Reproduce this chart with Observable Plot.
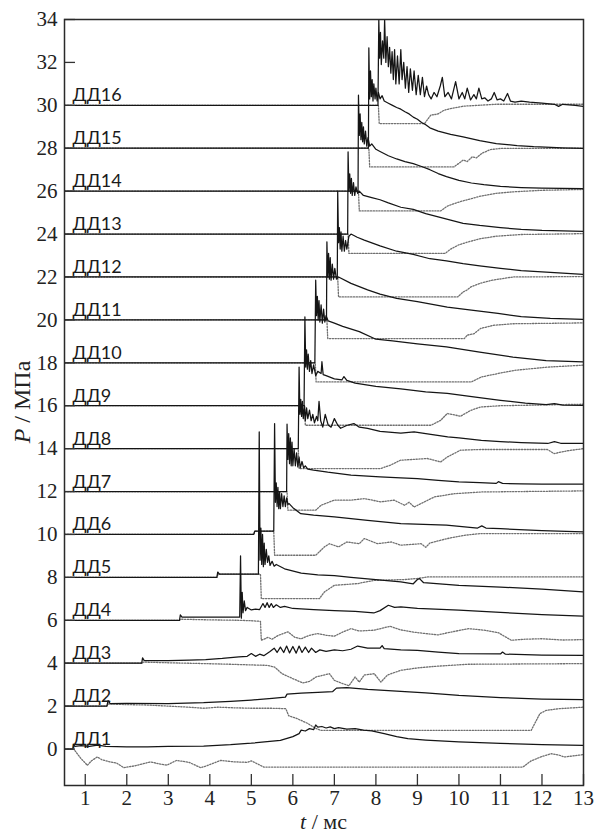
<!DOCTYPE html>
<html><head><meta charset="utf-8">
<script src="https://cdn.jsdelivr.net/npm/d3@7"></script>
<script src="https://cdn.jsdelivr.net/npm/@observablehq/plot@0.6"></script>
<style>body{margin:0;background:#fff}</style>
</head><body><div id="chart"></div>
<script>
const sensorNames = ["ДД1","ДД2","ДД3","ДД4","ДД5","ДД6","ДД7","ДД8","ДД9","ДД10","ДД11","ДД12","ДД13","ДД14","ДД15","ДД16"];
const sensorBaselines = [0,2,4,6,8,10,12,14,16,18,20,22,24,26,28,30];
const xTicks = [1,2,3,4,5,6,7,8,9,10,11,12,13];
const yTicks = [0,2,4,6,8,10,12,14,16,18,20,22,24,26,28,30,32,34];

const dd1Solid = [[0.5,0],[0.7,0],[0.72,0.22],[0.75,0.12],[0.9,0.16],[1.1,0.12],[1.3,0.18],[1.5,0.12],[2.0,0.1],[2.5,0.1],[3.0,0.12],[3.85,0.14],[4.5,0.2],[5.0,0.27],[5.7,0.4],[6.0,0.58],[6.15,0.72],[6.2,0.88],[6.3,0.84],[6.4,0.95],[6.5,0.9],[6.55,1.12],[6.6,1.02],[6.7,1.05],[6.8,0.98],[6.9,1.03],[7.0,0.95],[7.1,1.0],[7.3,0.93],[7.5,0.95],[7.7,0.88],[7.9,0.85],[8.2,0.72],[8.5,0.58],[8.77,0.48],[9.2,0.42],[10.0,0.33],[11.0,0.26],[12.0,0.2],[13,0.17]];
const dd1Dotted = [[0.5,0],[0.72,0],[0.8,-0.2],[0.9,-0.45],[1.0,-0.65],[1.05,-0.76],[1.15,-0.55],[1.29,-0.37],[1.4,-0.5],[1.6,-0.6],[1.75,-0.65],[1.93,-0.87],[2.2,-0.78],[2.57,-0.6],[2.8,-0.7],[2.97,-0.75],[3.2,-0.53],[3.5,-0.62],[3.78,-0.87],[3.9,-0.8],[4.26,-0.53],[4.6,-0.6],[4.9,-0.62],[5.0,-0.55],[5.3,-0.84],[11.54,-0.84],[11.74,-0.55],[12.0,-0.35],[12.22,-0.22],[12.4,-0.28],[12.54,-0.37],[13,-0.26]];
const dd2Solid = [[0.5,2],[1.52,2],[1.55,2.25],[1.6,2.12],[2.0,2.13],[3.0,2.12],[3.85,2.16],[4.5,2.22],[5.0,2.28],[5.5,2.36],[5.82,2.42],[5.86,2.56],[6.2,2.6],[6.6,2.64],[6.96,2.68],[7.05,2.84],[7.3,2.86],[7.8,2.78],[8.5,2.7],[9.2,2.62],[10.0,2.5],[11.0,2.4],[12.0,2.33],[13,2.3]];
const dd2Dotted = [[0.5,2],[1.52,2],[1.55,2.1],[2.0,2.07],[2.5,2.05],[3.0,2.0],[3.5,1.95],[3.85,1.9],[4.2,1.95],[4.6,1.92],[5.0,1.9],[5.5,1.9],[5.83,1.88],[5.9,1.55],[6.1,1.42],[6.35,1.2],[6.55,0.96],[6.67,0.87],[11.74,0.87],[11.95,1.65],[12.1,1.8],[12.4,1.88],[13,1.95]];
const dd3Solid = [[0.5,4],[2.36,4],[2.38,4.25],[2.42,4.12],[3.0,4.12],[3.5,4.14],[3.9,4.17],[4.3,4.22],[4.7,4.3],[4.9,4.32],[5.0,4.45],[5.1,4.32],[5.2,4.42],[5.3,4.35],[5.45,4.55],[5.55,4.7],[5.62,4.5],[5.7,4.75],[5.78,4.5],[5.85,4.8],[5.92,4.48],[6.0,4.78],[6.08,4.47],[6.15,4.8],[6.22,4.5],[6.3,4.75],[6.38,4.5],[6.45,4.7],[6.55,4.5],[6.65,4.62],[6.8,4.55],[7.0,4.62],[7.2,4.58],[7.4,4.65],[7.56,4.8],[7.8,4.7],[8.1,4.7],[8.15,4.82],[8.2,4.68],[8.6,4.62],[9.0,4.6],[9.5,4.52],[10.0,4.45],[11.0,4.43],[11.05,4.52],[11.12,4.42],[12.0,4.38],[13,4.37]];
const dd3Dotted = [[0.5,4],[2.37,4],[2.4,4.05],[3.0,4.02],[3.9,3.98],[4.5,3.95],[5.0,3.92],[5.38,3.9],[5.56,3.82],[5.74,3.51],[6.0,3.28],[6.24,3.08],[6.4,3.15],[6.56,3.36],[6.88,3.51],[7.0,3.2],[7.2,3.05],[7.35,2.95],[7.5,3.36],[7.6,3.12],[7.72,3.45],[7.96,3.51],[8.12,3.12],[8.28,3.45],[8.6,3.67],[9.0,3.78],[9.4,3.85],[10.2,3.95],[13,3.98]];
const dd4Solid = [[0.5,6],[3.27,6],[3.29,6.25],[3.33,6.15],[4.0,6.15],[4.72,6.15],[4.74,9.0],[4.76,6.1],[4.78,7.3],[4.8,6.35],[4.83,6.9],[4.86,6.45],[4.9,6.6],[5.0,6.48],[5.1,6.52],[5.2,6.5],[5.28,6.78],[5.33,6.6],[5.38,6.82],[5.43,6.6],[5.48,6.78],[5.53,6.6],[5.6,6.72],[5.7,6.6],[5.8,6.65],[6.0,6.55],[6.5,6.5],[7.0,6.45],[7.5,6.42],[7.95,6.34],[8.1,6.45],[8.3,6.7],[8.45,6.6],[8.6,6.62],[9.0,6.56],[10.0,6.47],[11.0,6.37],[12.0,6.26],[13,6.19]];
const dd4Dotted = [[0.5,6],[3.27,6],[3.3,6.05],[4.0,6.02],[4.7,6.0],[5.0,5.98],[5.22,5.95],[5.24,5.07],[5.4,5.2],[5.5,5.12],[5.65,5.3],[5.88,5.46],[6.05,5.2],[6.2,5.14],[6.4,5.3],[6.6,5.38],[6.8,5.3],[7.0,5.26],[7.2,5.45],[7.4,5.61],[7.6,5.5],[7.96,5.54],[8.34,5.72],[8.6,5.55],[8.9,5.45],[9.2,5.38],[9.5,5.32],[9.8,5.45],[10.24,5.61],[10.6,5.54],[10.95,5.42],[11.26,5.07],[11.6,5.12],[12.0,5.14],[12.5,5.08],[13,5.1]];
const dd5Solid = [[0.5,8],[4.17,8],[4.19,8.25],[4.23,8.15],[5.17,8.15],[5.19,14.78],[5.21,8.8],[5.23,10.3],[5.25,8.6],[5.27,10.0],[5.29,8.5],[5.31,9.6],[5.33,8.6],[5.36,9.3],[5.39,8.7],[5.42,9.0],[5.45,8.56],[5.5,8.75],[5.55,8.52],[5.6,8.6],[5.8,8.4],[6.2,8.2],[6.6,8.12],[7.0,8.08],[7.4,8.0],[8.0,7.9],[8.6,7.79],[8.9,7.7],[9.0,7.9],[9.05,7.94],[9.15,7.75],[10.0,7.63],[11.0,7.55],[12.0,7.45],[13,7.32]];
const dd5Dotted = [[0.5,8],[4.17,8],[4.2,8.15],[5.22,8.15],[5.24,7.01],[6.64,7.01],[6.76,7.32],[7.0,7.63],[7.56,7.71],[7.96,7.86],[8.7,7.9],[9.0,7.95],[9.25,8.02],[13,8.02]];
const dd6Solid = [[0.5,10],[5.06,10],[5.08,10.15],[5.54,10.15],[5.56,15.17],[5.58,11.5],[5.6,12.4],[5.62,11.3],[5.64,12.2],[5.66,11.2],[5.68,12.0],[5.7,11.2],[5.73,11.9],[5.76,11.3],[5.79,11.8],[5.82,11.3],[5.85,11.7],[5.88,11.4],[5.91,11.44],[6.0,11.25],[6.19,10.97],[6.5,10.9],[7.0,10.82],[7.8,10.66],[8.6,10.51],[9.7,10.43],[10.45,10.3],[10.55,10.4],[10.65,10.3],[11.0,10.27],[12.0,10.18],[13,10.12]];
const dd6Dotted = [[0.5,10],[5.06,10],[5.08,10.15],[5.54,10.15],[5.56,9.03],[6.55,9.03],[6.76,9.42],[6.88,9.57],[7.1,9.42],[7.3,9.65],[7.6,9.57],[7.72,9.81],[8.04,9.57],[8.37,9.65],[8.6,9.5],[9.09,9.57],[9.2,9.4],[9.3,9.6],[9.7,9.8],[10.13,9.96],[10.5,10.04],[13,10.04]];
const dd7Solid = [[0.5,12],[5.85,12],[5.86,15.14],[5.88,13.5],[5.9,14.7],[5.92,13.3],[5.94,14.5],[5.96,13.2],[5.98,14.3],[6.0,13.2],[6.03,14.0],[6.06,13.2],[6.09,13.8],[6.12,13.15],[6.15,13.6],[6.18,13.1],[6.22,13.4],[6.26,13.1],[6.3,13.2],[6.36,13.05],[6.5,13.0],[6.84,12.9],[7.4,12.76],[8.1,12.68],[8.6,12.64],[9.0,12.6],[9.5,12.52],[10.0,12.45],[10.5,12.42],[10.9,12.38],[10.95,12.46],[11.05,12.38],[11.5,12.36],[12.0,12.35],[13,12.34]];
const dd7Dotted = [[0.5,12],[5.86,12],[5.88,11.13],[6.55,11.13],[6.68,11.36],[7.0,11.6],[7.4,11.6],[7.72,11.67],[8.12,11.52],[8.44,11.6],[8.69,11.36],[8.8,11.5],[8.92,11.28],[9.41,11.75],[9.89,11.9],[10.54,11.98],[13,12.03]];
const dd8Solid = [[0.5,14],[6.13,14],[6.15,17.8],[6.17,15.6],[6.19,16.3],[6.21,15.5],[6.23,16.2],[6.25,15.4],[6.28,16.0],[6.3,15.3],[6.33,15.9],[6.36,15.4],[6.4,15.8],[6.44,15.3],[6.48,15.6],[6.52,15.2],[6.57,15.5],[6.6,15.3],[6.63,16.2],[6.67,15.3],[6.72,15.0],[6.78,15.6],[6.85,15.1],[6.92,15.0],[7.0,15.4],[7.08,15.1],[7.15,14.95],[7.31,15.09],[7.47,15.17],[7.6,15.0],[7.8,14.94],[8.1,14.8],[8.6,14.72],[8.92,14.78],[9.2,14.7],[9.73,14.55],[10.0,14.5],[10.54,14.39],[11.0,14.33],[11.5,14.28],[12.14,14.24],[12.3,14.33],[12.45,14.25],[13,14.24]];
const dd8Dotted = [[0.5,14],[6.13,14],[6.15,13.07],[8.11,13.07],[8.35,13.23],[8.59,13.46],[8.92,13.5],[9.24,13.54],[9.56,13.38],[9.72,13.61],[10.04,13.93],[10.52,13.96],[12.13,13.96],[12.29,13.77],[12.61,13.9],[13,14.0]];
const dd9Solid = [[0.5,16],[6.27,16],[6.29,20.14],[6.31,17.8],[6.33,18.6],[6.35,17.7],[6.37,18.4],[6.4,17.6],[6.43,18.1],[6.46,17.5],[6.5,17.9],[6.55,17.4],[6.6,17.6],[6.68,17.5],[6.7,18.05],[6.73,17.45],[6.8,17.4],[7.0,17.25],[7.18,17.2],[7.23,17.36],[7.3,17.18],[7.5,17.05],[8.0,16.9],[8.6,16.78],[9.2,16.65],[9.72,16.57],[10.4,16.4],[11.0,16.25],[11.6,16.12],[12.1,16.05],[12.3,16.1],[12.5,16.03],[13,16.02]];
const dd9Dotted = [[0.5,16],[6.28,16],[6.3,15.09],[9.33,15.09],[9.56,15.32],[9.72,15.64],[10.04,15.51],[10.28,15.78],[10.52,15.94],[11.0,16.0],[13,16.07]];
const dd10Solid = [[0.5,18],[6.53,18],[6.55,21.85],[6.57,20.2],[6.59,21.1],[6.61,20.0],[6.63,20.9],[6.65,19.9],[6.68,20.7],[6.71,19.85],[6.74,20.5],[6.77,19.9],[6.8,20.2],[6.85,19.95],[7.0,19.85],[7.2,19.7],[7.6,19.45],[8.0,19.1],[8.4,19.02],[9.0,18.88],[9.7,18.74],[10.5,18.5],[11.3,18.27],[12.1,18.1],[13,18.04]];
const dd10Dotted = [[0.5,18],[6.54,18],[6.56,17.11],[10.3,17.11],[10.54,17.34],[10.94,17.5],[11.34,17.65],[12.14,17.8],[13,17.89]];
const dd11Solid = [[0.5,20],[6.81,20],[6.82,23.64],[6.84,22.0],[6.86,23.1],[6.88,21.9],[6.9,22.9],[6.92,21.85],[6.95,22.6],[6.98,21.9],[7.01,22.4],[7.05,21.9],[7.1,22.0],[7.4,21.7],[7.8,21.4],[8.1,21.2],[8.5,21.0],[9.0,20.85],[9.72,20.6],[10.3,20.45],[10.94,20.3],[11.5,20.15],[12.2,20.07],[13,20.02]];
const dd11Dotted = [[0.5,20],[6.82,20],[6.84,19.13],[10.13,19.13],[10.2,19.29],[10.36,19.35],[10.52,19.6],[10.84,19.75],[11.3,19.82],[13,19.86]];
const dd12Solid = [[0.5,22],[7.07,22],[7.08,26.0],[7.1,23.6],[7.12,24.3],[7.14,23.3],[7.16,24.1],[7.18,23.2],[7.21,23.9],[7.24,23.2],[7.27,23.7],[7.3,23.3],[7.35,23.9],[7.4,24.0],[7.55,23.85],[7.72,23.72],[8.1,23.45],[8.5,23.2],[8.9,23.05],[9.3,22.85],[9.7,22.75],[10.1,22.62],[10.5,22.52],[11.0,22.4],[11.5,22.3],[12.0,22.24],[12.5,22.18],[13,22.12]];
const dd12Dotted = [[0.5,22],[7.08,22],[7.1,21.07],[9.97,21.07],[10.1,21.3],[10.2,21.4],[10.3,21.55],[10.5,21.7],[10.8,21.85],[11.3,22.0],[13,22.02]];
const dd13Solid = [[0.5,24],[7.32,24],[7.33,27.83],[7.35,26.0],[7.37,26.8],[7.39,25.9],[7.41,26.6],[7.43,25.8],[7.46,26.4],[7.49,25.8],[7.52,26.2],[7.56,25.9],[7.6,26.0],[7.7,25.8],[7.9,25.7],[8.1,25.6],[8.3,25.45],[8.6,25.25],[8.9,25.15],[9.2,24.95],[9.5,24.8],[9.8,24.65],[10.1,24.5],[10.5,24.4],[11.0,24.3],[11.5,24.22],[12.0,24.17],[13,24.12]];
const dd13Dotted = [[0.5,24],[7.33,24],[7.35,23.1],[9.67,23.1],[9.8,23.3],[10.0,23.5],[10.2,23.62],[10.5,23.78],[10.9,23.9],[11.5,23.98],[13,24.02]];
const dd14Solid = [[0.5,26],[7.57,26],[7.58,30.47],[7.6,28.6],[7.62,29.6],[7.64,28.4],[7.66,29.2],[7.68,28.3],[7.7,29.0],[7.72,28.2],[7.75,28.8],[7.78,28.1],[7.81,28.5],[7.85,28.1],[7.9,28.2],[8.0,27.95],[8.1,27.85],[8.3,27.65],[8.5,27.5],[8.7,27.38],[8.9,27.28],[9.1,27.15],[9.3,27.0],[9.5,26.82],[9.7,26.68],[10.0,26.5],[10.3,26.38],[10.6,26.3],[11.0,26.22],[11.5,26.17],[12.0,26.14],[13,26.12]];
const dd14Dotted = [[0.5,26],[7.58,26],[7.6,25.08],[9.56,25.08],[9.72,25.3],[9.9,25.43],[10.1,25.55],[10.3,25.65],[10.52,25.77],[10.9,25.9],[11.32,25.97],[12,26.04],[13,26.08]];
const dd15Solid = [[0.5,28],[7.82,28],[7.83,32.68],[7.85,30.3],[7.87,31.6],[7.89,30.4],[7.91,31.2],[7.93,30.2],[7.95,31.0],[7.98,30.3],[8.0,30.8],[8.03,30.2],[8.06,30.6],[8.1,30.3],[8.15,30.45],[8.2,30.2],[8.3,30.1],[8.4,30.0],[8.5,29.9],[8.6,29.82],[8.7,29.7],[8.8,29.6],[8.9,29.45],[9.0,29.35],[9.1,29.2],[9.2,29.1],[9.3,28.95],[9.5,28.8],[9.8,28.65],[10.1,28.53],[10.5,28.35],[10.9,28.22],[11.4,28.12],[11.8,28.07],[12.5,28.02],[13,27.99]];
const dd15Dotted = [[0.5,28],[7.83,28],[7.85,27.13],[9.88,27.13],[10.0,27.3],[10.1,27.45],[10.2,27.38],[10.32,27.6],[10.42,27.55],[10.55,27.76],[10.76,27.94],[11.0,27.99],[13,28.0]];
const dd16Solid = [[0.5,30],[8.05,30],[8.07,34.0],[8.09,32.2],[8.11,33.4],[8.13,31.9],[8.16,33.0],[8.19,32.2],[8.21,34.0],[8.24,32.0],[8.27,33.2],[8.3,31.8],[8.33,32.7],[8.36,31.5],[8.39,32.5],[8.42,31.2],[8.45,32.6],[8.48,31.0],[8.52,32.3],[8.56,31.0],[8.6,32.6],[8.63,31.2],[8.67,32.0],[8.71,30.8],[8.75,31.8],[8.79,30.6],[8.83,31.7],[8.88,30.7],[8.92,31.6],[8.97,30.5],[9.02,31.4],[9.07,30.5],[9.12,31.3],[9.17,30.4],[9.22,30.9],[9.27,30.5],[9.33,30.3],[9.4,30.6],[9.47,30.4],[9.55,30.9],[9.6,31.3],[9.66,30.4],[9.74,30.6],[9.82,30.3],[9.92,31.1],[10.0,30.3],[10.08,30.6],[10.14,30.3],[10.2,30.8],[10.28,30.25],[10.36,30.5],[10.42,30.3],[10.48,30.8],[10.55,30.3],[10.62,30.35],[10.7,30.2],[10.78,30.3],[10.85,30.6],[10.92,30.25],[11.0,30.3],[11.08,30.2],[11.17,30.55],[11.24,30.2],[11.35,30.15],[11.5,30.2],[11.7,30.15],[12.0,30.1],[12.3,30.05],[12.4,29.95],[12.5,30.05],[12.8,30.0],[13,29.95]];
const dd16Dotted = [[0.5,30],[8.06,30],[8.08,29.15],[9.17,29.15],[9.32,29.54],[9.5,29.6],[9.64,29.77],[9.8,29.85],[10.1,29.96],[10.9,30.05],[13,30.05]];

const solidSeries = [dd1Solid,dd2Solid,dd3Solid,dd4Solid,dd5Solid,dd6Solid,dd7Solid,dd8Solid,dd9Solid,dd10Solid,dd11Solid,dd12Solid,dd13Solid,dd14Solid,dd15Solid,dd16Solid];
const dottedSeries = [dd1Dotted,dd2Dotted,dd3Dotted,dd4Dotted,dd5Dotted,dd6Dotted,dd7Dotted,dd8Dotted,dd9Dotted,dd10Dotted,dd11Dotted,dd12Dotted,dd13Dotted,dd14Dotted,dd15Dotted,dd16Dotted];

const solidRows = [], dottedRows = [];
solidSeries.forEach((s, i) => s.forEach(([t, p]) => solidRows.push({sensor: sensorNames[i], t, p})));
dottedSeries.forEach((s, i) => s.forEach(([t, p]) => dottedRows.push({sensor: sensorNames[i], t, p})));

const W = 596, H = 834, mL = 64, mR = 13, mT = 19, mB = 49;
const plotW = W - mL - mR, plotH = H - mT - mB;

const chart = Plot.plot({
  width: W, height: H,
  marginLeft: mL, marginRight: mR, marginTop: mT, marginBottom: mB,
  style: {fontFamily: "'Liberation Serif', 'Times New Roman', serif", fontSize: "21px", color: "#222", background: "#fff"},
  x: {domain: [0.5, 13]},
  y: {domain: [-1.7, 34]},
  marks: [
    Plot.line(dottedRows, {x: "t", y: "p", z: "sensor", stroke: "#707070", strokeWidth: 1.3, strokeDasharray: "1.3,1.5", clip: true}),
    Plot.line(solidRows, {x: "t", y: "p", z: "sensor", stroke: "#151515", strokeWidth: 1.25, clip: true}),
    Plot.tickX(xTicks, {x: d => d, insetTop: plotH - 11, stroke: "#333", strokeWidth: 1.3}),
    Plot.tickY(yTicks, {y: d => d, insetRight: plotW - 11, stroke: "#333", strokeWidth: 1.3}),
    Plot.axisX(xTicks, {tickSize: 0, tickPadding: 5, label: null, fill: "#222"}),
    Plot.axisY(yTicks, {tickSize: 0, tickPadding: 7, label: null, fill: "#222"}),
    Plot.text(sensorNames, {frameAnchor: "left", y: (d, i) => sensorBaselines[i], text: d => d, dx: 8, dy: -4, textAnchor: "start", lineAnchor: "bottom", fontFamily: "Lato, 'Open Sans', sans-serif", fontSize: 18, fill: "#1a1a1a"}),
    Plot.frame({stroke: "#2a2a2a", strokeWidth: 1.5})
  ]
});
document.getElementById("chart").appendChild(chart);

const xs = chart.scale("x"), ys = chart.scale("y");
const svg = d3.select(chart);
const xt = svg.append("text")
  .attr("x", (xs.apply(0.5) + xs.apply(13)) / 2)
  .attr("y", H - 5)
  .attr("text-anchor", "middle")
  .attr("font-family", "'Liberation Serif', serif")
  .attr("font-size", 22)
  .attr("fill", "#222");
xt.append("tspan").attr("font-style", "italic").text("t");
xt.append("tspan").text(" / мс");

const yt = svg.append("text")
  .attr("transform", `translate(30,${(ys.apply(-1.7) + ys.apply(34)) / 2}) rotate(-90)`)
  .attr("text-anchor", "middle")
  .attr("font-family", "'Liberation Serif', serif")
  .attr("font-size", 24)
  .attr("fill", "#222");
yt.append("tspan").attr("font-style", "italic").text("P");
yt.append("tspan").text(" / МПа");
</script>
</body></html>
